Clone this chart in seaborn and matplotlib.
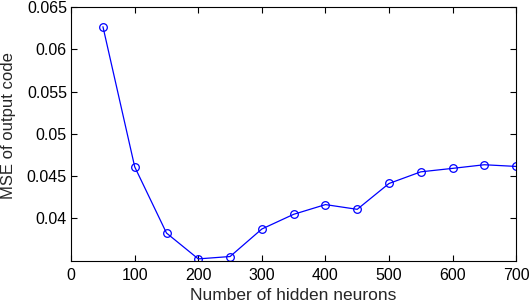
import matplotlib
matplotlib.use("Agg")
import matplotlib.pyplot as plt
import seaborn as sns
import pandas as pd

neurons = [50, 100, 150, 200, 250, 300, 350, 400, 450, 500, 550, 600, 650, 700]
mse = [0.0627, 0.0461, 0.03826, 0.0352, 0.03548, 0.03874, 0.04048, 0.04163,
       0.04107, 0.04413, 0.04551, 0.04592, 0.04635, 0.04615]
xticks = [0, 100, 200, 300, 400, 500, 600, 700]
yticks = [0.04, 0.045, 0.05, 0.055, 0.06, 0.065]
ytick_labels = ["0.04", "0.045", "0.05", "0.055", "0.06", "0.065"]

sns.set_style("ticks")
plt.rcParams['font.family'] = ['Liberation Sans', 'DejaVu Sans']

df = pd.DataFrame({"n": neurons, "mse": mse})
fig = plt.figure(figsize=(5.31, 3.03), dpi=100)
ax = fig.add_axes([0.134, 0.14, 0.838, 0.836])
sns.lineplot(data=df, x="n", y="mse", ax=ax, color="#0000ff", linewidth=0.9,
             marker="o", markersize=5.5, markerfacecolor="none",
             markeredgecolor="#0000ff", markeredgewidth=0.9)
ax.set_xlim(0, 700)
ax.set_ylim(0.035, 0.065)
ax.set_xticks(xticks)
ax.set_yticks(yticks)
ax.set_yticklabels(ytick_labels)
ax.tick_params(direction="in", top=True, right=True, length=4, width=0.8,
               labelsize=11.5, colors="black")
ax.tick_params(axis="x", pad=5)
ax.tick_params(axis="y", pad=3)
for s in ax.spines.values():
    s.set_visible(True)
    s.set_color("black")
    s.set_linewidth(0.8)
ax.set_xlabel("Number of hidden neurons", fontsize=12.5)
ax.set_ylabel("MSE of output code", fontsize=12)
ax.xaxis.set_label_coords(0.498, -0.108)
ax.yaxis.set_label_coords(-0.123, 0.533)
fig.savefig("out.png", dpi=100)
